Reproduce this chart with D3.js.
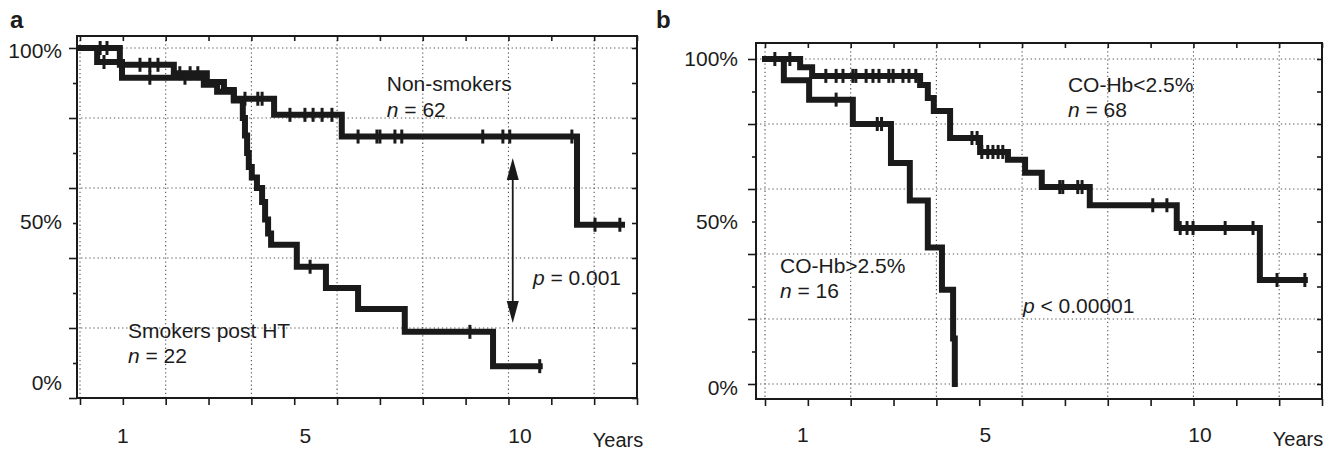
<!DOCTYPE html>
<html>
<head>
<meta charset="utf-8">
<script src="https://cdn.jsdelivr.net/npm/d3@7"></script>
<style>
  body { margin: 0; background: #fff; }
  svg text { font-family: "Liberation Sans", Arial, Helvetica, sans-serif; fill: #1c1c1c; }
</style>
</head>
<body>
<svg id="chart" width="1336" height="452"></svg>
<script>
// ---------- Panel a: survival by smoking status after transplantation ----------
// Kaplan–Meier steps: survival (%) holds from each time (years) until the next one.
const nonSmokersTimes = [0, 0.93, 2.19, 2.96, 3.36, 3.59, 4.53, 6.11, 11.6];
const nonSmokersSurv  = [100, 95.2, 92.8, 90.3, 88, 85.5, 80.9, 74.7, 49.5];
const nonSmokersEnd   = 12.65;
const nonSmokersCensored = [0.47, 0.63, 1.40, 1.63, 1.82, 2.33, 2.57, 2.75, 3.85, 4.15, 4.25,
  4.90, 5.25, 5.44, 5.65, 5.88, 6.49, 6.93, 7.0, 7.35, 7.51, 9.40, 9.87, 10.03, 11.48, 12.02, 12.6];

const smokersTimes = [0, 0.40, 0.98, 2.89, 3.20, 3.59, 3.80, 3.85, 3.90, 3.94, 4.01, 4.13, 4.25,
  4.32, 4.39, 4.46, 5.06, 5.74, 6.49, 7.58, 9.64];
const smokersSurv  = [100, 96, 91.5, 89.5, 87.5, 85, 80, 75, 70, 66, 63, 60, 56,
  51, 47, 43.8, 37.5, 31.4, 25.4, 18.9, 9.1];
const smokersEnd   = 10.73;
const smokersCensored = [0.56, 1.63, 2.45, 5.37, 9.10, 10.73];

// ---------- Panel b: survival by carboxyhaemoglobin level ----------
const lowCoHbTimes = [0, 0.82, 1.10, 3.62, 3.80, 3.94, 4.32, 5.02, 5.67, 6.07, 6.46, 7.58, 9.61, 11.55];
const lowCoHbSurv  = [100, 97.5, 94.8, 92, 88, 84, 75.7, 71.4, 69, 65, 60.6, 55, 48, 32];
const lowCoHbEnd   = 12.6;
const lowCoHbCensored = [0.23, 0.58, 1.42, 1.66, 1.82, 2.05, 2.12, 2.36, 2.52, 2.66, 2.89, 2.99,
  3.22, 3.36, 3.52, 4.83, 4.95, 5.06, 5.20, 5.32, 5.44, 5.55, 6.88, 6.95, 7.30, 7.40,
  9.05, 9.38, 9.69, 9.85, 9.99, 10.74, 11.39, 11.95, 12.6];

const highCoHbTimes = [0, 0.44, 1.03, 2.05, 2.94, 3.38, 3.80, 4.13, 4.39, 4.43];
const highCoHbSurv  = [100, 93.5, 87.5, 80, 68, 56.5, 42, 29, 14, 0];
const highCoHbEnd   = 4.43;
const highCoHbCensored = [1.66, 2.62, 2.72];

// ---------- Axis values ----------
const yearTicks     = d3.range(0, 14);          // one tick per year
const yearGrid      = [0, 2, 4, 6, 8, 10, 12];  // dotted verticals every 2 years
const yearLabels    = [1, 5, 10];
const survMajor     = [0, 20, 40, 60, 80, 100];
const survMinor     = [10, 30, 50, 70, 90];
const survLabels    = [100, 50, 0];

// ---------- Layout ----------
const svg = d3.select("#chart");
const INK = "#1a1a1a";

const panels = [
  {
    letter: "a", letterX: 10,
    xRange: [80, 637], yRange: [398, 48],
    frame: { l: 77, t: 36, r: 637, b: 398 },
    yLabelGap: 15, yLabelShift: { 100: 3, 50: -1, 0: -15 },
    xLabelShift: { 1: 0, 5: 11, 10: 11.5 }, yearsX: 618, xLabelY: 443,
    curves: [
      { times: nonSmokersTimes, surv: nonSmokersSurv, end: nonSmokersEnd, censored: nonSmokersCensored },
      { times: smokersTimes, surv: smokersSurv, end: smokersEnd, censored: smokersCensored }
    ],
    notes: [
      { t: 7.16, s: 87.7, parts: [["Non-smokers", false]] },
      { t: 7.16, s: 80.3, parts: [["n", true], [" = 62", false]] },
      { t: 1.12, s: 17.1, parts: [["Smokers post HT", false]] },
      { t: 1.12, s: 10.0, parts: [["n", true], [" = 22", false]] },
      { t: 10.57, s: 32.3, parts: [["p", true], [" = 0.001", false]] }
    ],
    arrow: { t: 10.1, from: 68.6, to: 21.4 }
  },
  {
    letter: "b", letterX: 656,
    xRange: [765, 1322], yRange: [384, 59],
    frame: { l: 756, t: 43, r: 1322, b: 399 },
    yLabelGap: 18, yLabelShift: { 100: 0, 50: 0, 0: 4 },
    xLabelShift: { 1: -5, 5: 6, 10: 6.5 }, yearsX: 1298, xLabelY: 442,
    curves: [
      { times: lowCoHbTimes, surv: lowCoHbSurv, end: lowCoHbEnd, censored: lowCoHbCensored },
      { times: highCoHbTimes, surv: highCoHbSurv, end: highCoHbEnd, censored: highCoHbCensored }
    ],
    notes: [
      { t: 7.07, s: 89.8, parts: [["CO-Hb<2.5%", false]] },
      { t: 7.07, s: 82.2, parts: [["n", true], [" = 68", false]] },
      { t: 0.35, s: 34.2, parts: [["CO-Hb>2.5%", false]] },
      { t: 0.35, s: 26.5, parts: [["n", true], [" = 16", false]] },
      { t: 6.02, s: 21.8, parts: [["p", true], [" < 0.00001", false]] }
    ],
    arrow: null
  }
];

function survivalAt(curve, t) {
  const i = d3.bisectRight(curve.times, t) - 1;
  return curve.surv[Math.max(0, i)];
}

panels.forEach(p => {
  const x = d3.scaleLinear().domain([0, 13]).range(p.xRange);
  const y = d3.scaleLinear().domain([0, 100]).range(p.yRange);
  const f = p.frame;
  const g = svg.append("g");

  // panel letter
  g.append("text").attr("x", p.letterX).attr("y", 28)
    .attr("font-size", 24).attr("font-weight", "bold").text(p.letter);

  // dotted grid
  const grid = g.append("g").attr("stroke", "#555").attr("stroke-width", 1.1)
    .attr("stroke-dasharray", "1.3,2.8");
  grid.selectAll("line.h").data(survMajor).join("line")
    .attr("x1", f.l).attr("x2", f.r).attr("y1", d => y(d)).attr("y2", d => y(d));
  grid.selectAll("line.v").data(yearGrid).join("line")
    .attr("x1", d => x(d)).attr("x2", d => x(d)).attr("y1", f.t).attr("y2", f.b);

  // ticks on all four sides
  const tickStyle = sel => { sel.select(".domain").remove(); sel.selectAll("line").attr("stroke", INK).attr("stroke-width", 1.6); };
  g.append("g").attr("transform", `translate(0,${f.b})`)
    .call(d3.axisBottom(x).tickValues(yearTicks).tickSize(7).tickFormat("")).call(tickStyle);
  g.append("g").attr("transform", `translate(0,${f.t})`)
    .call(d3.axisTop(x).tickValues(yearTicks).tickSize(-5).tickFormat("")).call(tickStyle);
  g.append("g").attr("transform", `translate(${f.l},0)`)
    .call(d3.axisLeft(y).tickValues(survMajor).tickSize(8).tickFormat("")).call(tickStyle);
  g.append("g").attr("transform", `translate(${f.l},0)`)
    .call(d3.axisLeft(y).tickValues(survMinor).tickSize(4).tickFormat("")).call(tickStyle);
  g.append("g").attr("transform", `translate(${f.r},0)`)
    .call(d3.axisRight(y).tickValues(survMajor.concat(survMinor)).tickSize(-5).tickFormat("")).call(tickStyle);

  // frame
  g.append("rect").attr("x", f.l).attr("y", f.t).attr("width", f.r - f.l).attr("height", f.b - f.t)
    .attr("fill", "none").attr("stroke", INK).attr("stroke-width", 2);

  // axis labels
  g.selectAll("text.ylab").data(survLabels).join("text")
    .attr("x", f.l - p.yLabelGap).attr("y", d => y(d) + p.yLabelShift[d])
    .attr("dy", "0.35em").attr("text-anchor", "end").attr("font-size", 21)
    .text(d => d + "%");
  g.selectAll("text.xlab").data(yearLabels).join("text")
    .attr("x", d => x(d) + p.xLabelShift[d]).attr("y", p.xLabelY)
    .attr("text-anchor", "middle").attr("font-size", 21).text(d => d);
  g.append("text").attr("x", p.yearsX).attr("y", p.xLabelY + 4)
    .attr("text-anchor", "middle").attr("font-size", 20).text("Years");

  // survival curves
  const step = d3.line().x(d => x(d[0])).y(d => y(d[1])).curve(d3.curveStepAfter);
  p.curves.forEach(c => {
    const pts = c.times.map((t, i) => [t, c.surv[i]]);
    pts.push([c.end, c.surv[c.surv.length - 1]]);
    g.append("path").attr("d", step(pts)).attr("fill", "none")
      .attr("stroke", INK).attr("stroke-width", 6)
      .attr("stroke-linejoin", "miter").attr("stroke-linecap", "square");
    g.selectAll(null).data(c.censored).join("line")
      .attr("x1", d => x(d)).attr("x2", d => x(d))
      .attr("y1", d => y(survivalAt(c, d)) - 7).attr("y2", d => y(survivalAt(c, d)) + 7)
      .attr("stroke", INK).attr("stroke-width", 3);
  });

  // annotations
  p.notes.forEach(n => {
    const t = g.append("text").attr("x", x(n.t)).attr("y", y(n.s)).attr("font-size", 21);
    n.parts.forEach(([str, it]) => t.append("tspan").attr("font-style", it ? "italic" : "normal").text(str));
  });

  // double-headed arrow between the two curves
  if (p.arrow) {
    const ax = x(p.arrow.t), y1 = y(p.arrow.from), y2 = y(p.arrow.to);
    const headL = 22, headW = 6;
    g.append("line").attr("x1", ax).attr("x2", ax).attr("y1", y1 + headL - 2).attr("y2", y2 - headL + 2)
      .attr("stroke", INK).attr("stroke-width", 1.8);
    g.append("path").attr("fill", INK)
      .attr("d", `M${ax},${y1} L${ax - headW},${y1 + headL} L${ax + headW},${y1 + headL} Z`);
    g.append("path").attr("fill", INK)
      .attr("d", `M${ax},${y2} L${ax - headW},${y2 - headL} L${ax + headW},${y2 - headL} Z`);
  }
});
</script>
</body>
</html>
